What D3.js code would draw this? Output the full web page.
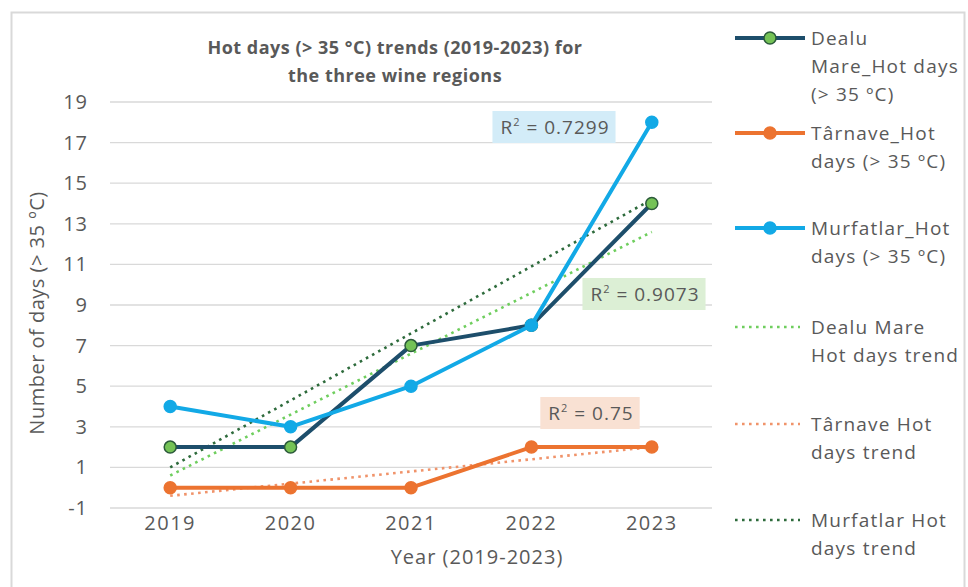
<!DOCTYPE html>
<html>
<head>
<meta charset="utf-8">
<script src="https://cdn.jsdelivr.net/npm/d3@7"></script>
<style>
  body { margin: 0; background: #fff; }
  text { font-family: "Open Sans", "Noto Sans", sans-serif; fill: #595959; }
</style>
</head>
<body>
<div id="chart"></div>
<script>
// data
var years = ["2019", "2020", "2021", "2022", "2023"];
var dealuMare = [2, 2, 7, 8, 14];
var tarnave = [0, 0, 0, 2, 2];
var murfatlar = [4, 3, 5, 8, 18];
var yTicks = [-1, 1, 3, 5, 7, 9, 11, 13, 15, 17, 19];
var r2Labels = ["0.9073", "0.75", "0.7299"];

var width = 968, height = 587;
var svg = d3.select("#chart").append("svg")
  .attr("width", width).attr("height", height);

// chart frame
svg.append("rect")
  .attr("x", 11.5).attr("y", 12.5)
  .attr("width", 953).attr("height", 600)
  .attr("fill", "none").attr("stroke", "#d9d9d9").attr("stroke-width", 2);

var x = d3.scaleBand().domain(years).range([110, 712]);
var y = d3.scaleLinear().domain([-1, 19]).range([508, 102]);
function cx(i) { return x(years[i]) + x.bandwidth() / 2; }

// gridlines
svg.selectAll(".grid").data(yTicks).enter().append("line")
  .attr("x1", 110).attr("x2", 712)
  .attr("y1", function(d) { return y(d); })
  .attr("y2", function(d) { return y(d); })
  .attr("stroke", "#d9d9d9").attr("stroke-width", 1.3);

// y labels
svg.selectAll(".ylbl").data(yTicks).enter().append("text")
  .attr("x", 88).attr("y", function(d) { return y(d) + 7; })
  .attr("text-anchor", "end").style("font-size", "20px")
  .style("letter-spacing", "1px")
  .text(function(d) { return d; });

// x labels
svg.selectAll(".xlbl").data(years).enter().append("text")
  .attr("x", function(d, i) { return cx(i); }).attr("y", 530)
  .attr("text-anchor", "middle").style("font-size", "20px")
  .style("letter-spacing", "1.5px")
  .text(function(d) { return d; });

svg.append("text").attr("x", 477).attr("y", 564)
  .attr("text-anchor", "middle").style("font-size", "20px")
  .style("letter-spacing", "1px")
  .text("Year (2019-2023)");

svg.append("text")
  .attr("transform", "translate(44,313) rotate(-90)")
  .attr("text-anchor", "middle").style("font-size", "20px")
  .style("letter-spacing", "0.5px")
  .text("Number of days (> 35 \u00baC)");

// title
var title = svg.append("text").attr("text-anchor", "middle")
  .style("font-size", "18px").style("font-weight", "bold")
  .style("letter-spacing", "0.5px");
title.append("tspan").attr("x", 395).attr("y", 54).text("Hot days  (> 35 \u00b0C) trends (2019-2023) for");
title.append("tspan").attr("x", 395).attr("y", 82).text("the three wine regions");

// linear fit over x = 1..n
function fit(vals) {
  var n = vals.length, xs = d3.range(1, n + 1);
  var mx = d3.mean(xs), my = d3.mean(vals);
  var sxy = d3.sum(xs, function(v, i) { return (v - mx) * (vals[i] - my); });
  var sxx = d3.sum(xs, function(v) { return (v - mx) * (v - mx); });
  var b = sxy / sxx, a = my - b * mx;
  return [a + b * 1, a + b * n];
}

var series = [
  { name: "Dealu Mare", vals: dealuMare, line: "#1d4e6b", fill: "#74c256", stroke: "#2b5a3a", trend: "#6fce5e" },
  { name: "Tarnave", vals: tarnave, line: "#ec7330", fill: "#ec7330", stroke: "#ec7330", trend: "#f0936a" },
  { name: "Murfatlar", vals: murfatlar, line: "#12a9e6", fill: "#12a9e6", stroke: "#12a9e6", trend: "#2e6b3c" }
];

// trend lines
series.forEach(function(s) {
  var t = fit(s.vals);
  svg.append("line")
    .attr("x1", cx(0)).attr("x2", cx(s.vals.length - 1))
    .attr("y1", y(t[0])).attr("y2", y(t[1]))
    .attr("stroke", s.trend).attr("stroke-width", 2.6)
    .attr("stroke-dasharray", "2.6,4.4");
});

var line = d3.line()
  .x(function(d, i) { return cx(i); })
  .y(function(d) { return y(d); });

series.forEach(function(s, k) {
  svg.append("path").datum(s.vals).attr("d", line)
    .attr("fill", "none").attr("stroke", s.line).attr("stroke-width", 4)
    .attr("stroke-linejoin", "round");
  svg.selectAll(".pt" + k).data(s.vals).enter().append("circle")
    .attr("cx", function(d, i) { return cx(i); })
    .attr("cy", function(d) { return y(d); })
    .attr("r", 6)
    .attr("fill", s.fill).attr("stroke", s.stroke).attr("stroke-width", 1.5);
});

// R² labels
var r2Pos = [[645, 294, "#dcefd5"], [591, 413, "#f9e1d3"], [555, 127, "#d3ecf8"]];
r2Labels.forEach(function(v, i) {
  var p = r2Pos[i];
  var g = svg.append("g");
  var tx = g.append("text").attr("x", p[0]).attr("y", p[1] + 7)
    .attr("text-anchor", "middle").style("font-size", "19px")
    .style("letter-spacing", "1px");
  tx.append("tspan").text("R");
  tx.append("tspan").attr("dy", -8).style("font-size", "11px").text("2");
  tx.append("tspan").attr("dy", 8).text(" = " + v);
  var bb = tx.node().getBBox();
  g.insert("rect", "text")
    .attr("x", bb.x - 8).attr("y", p[1] - 16)
    .attr("width", bb.width + 14).attr("height", 32)
    .attr("fill", p[2]);
});

// legend
var legend = [
  { lines: ["Dealu", "Mare_Hot days", "(> 35 \u00baC)"], y: 38, s: series[0], dot: true },
  { lines: ["T\u00e2rnave_Hot", "days (> 35 \u00baC)"], y: 133, s: series[1], dot: true },
  { lines: ["Murfatlar_Hot", "days (> 35 \u00baC)"], y: 228, s: series[2], dot: true },
  { lines: ["Dealu Mare", "Hot days trend"], y: 327, s: series[0], dot: false },
  { lines: ["T\u00e2rnave Hot", "days trend"], y: 424, s: series[1], dot: false },
  { lines: ["Murfatlar Hot", "days trend"], y: 520, s: series[2], dot: false }
];
legend.forEach(function(l) {
  if (l.dot) {
    svg.append("line").attr("x1", 735).attr("x2", 805)
      .attr("y1", l.y).attr("y2", l.y)
      .attr("stroke", l.s.line).attr("stroke-width", 4);
    svg.append("circle").attr("cx", 770).attr("cy", l.y).attr("r", 6)
      .attr("fill", l.s.fill).attr("stroke", l.s.stroke).attr("stroke-width", 1.5);
  } else {
    svg.append("line").attr("x1", 735).attr("x2", 800)
      .attr("y1", l.y).attr("y2", l.y)
      .attr("stroke", l.s.trend).attr("stroke-width", 2.6)
      .attr("stroke-dasharray", "2.6,4.4");
  }
  var t = svg.append("text").style("font-size", "19px").style("letter-spacing", "1.2px");
  l.lines.forEach(function(s, i) {
    t.append("tspan").attr("x", 811).attr("y", l.y + 7 + i * 28).text(s);
  });
});
</script>
</body>
</html>
